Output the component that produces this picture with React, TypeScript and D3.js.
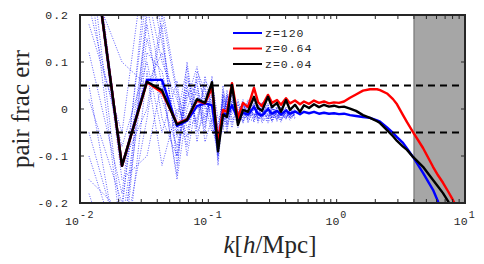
import React from 'react';
import * as d3 from 'd3';

// k bins [h/Mpc]
const kBins = [
  0.01175, 0.02124, 0.03327, 0.04355, 0.057, 0.06822, 0.08163, 0.09421, 0.1068, 0.119,
  0.1301, 0.1398, 0.1529, 0.1702, 0.1863, 0.2037, 0.2269, 0.2438, 0.2619, 0.2917,
  0.3133, 0.3428, 0.3683, 0.4029, 0.4329, 0.4736, 0.518, 0.5566, 0.6088, 0.6659,
  0.7283, 0.7968, 0.8716, 0.9533, 1.043, 1.141, 1.27, 1.415, 1.604, 1.819,
  2.063, 2.177, 2.467, 2.748, 2.953, 3.288, 3.533, 3.935, 4.708, 5.633,
  6.16, 6.74, 7.372, 8.064, 8.82,
];

const errZ120 = [
  0.405, -0.121, 0.062, 0.062, -0.036, -0.025, 0.006, 0.012, 0.008, -0.08,
  -0.01, -0.012, 0.008, -0.022, -0.008, -0.012, 0.004, -0.01, -0.014, 0.0,
  -0.01, -0.004, -0.012, -0.003, -0.01, -0.005, -0.011, -0.006, -0.009, -0.006,
  -0.01, -0.008, -0.01, -0.009, -0.011, -0.01, -0.013, -0.015, -0.017, -0.019,
  -0.024, -0.027, -0.039, -0.051, -0.06, -0.072, -0.084, -0.102, -0.136, -0.172,
  -0.197, -0.225, -0.26, -0.3, -0.34,
];

const errZ064 = [
  0.405, -0.121, 0.057, 0.035, -0.031, -0.022, 0.018, 0.012, 0.045, -0.07,
  -0.002, -0.006, 0.055, -0.019, 0.013, 0.004, 0.045, 0.015, 0.006, 0.03,
  0.013, 0.019, 0.009, 0.023, 0.012, 0.018, 0.01, 0.016, 0.011, 0.018,
  0.013, 0.016, 0.012, 0.014, 0.013, 0.016, 0.024, 0.031, 0.039, 0.042,
  0.042, 0.04, 0.033, 0.021, 0.01, -0.013, -0.028, -0.049, -0.083, -0.123,
  -0.141, -0.157, -0.175, -0.194, -0.215,
];

const errZ004 = [
  0.405, -0.121, 0.058, 0.04, -0.033, -0.023, 0.021, 0.013, 0.057, -0.09,
  -0.012, -0.017, 0.051, -0.034, -0.002, -0.006, 0.026, 0.002, -0.004, 0.026,
  0.004, 0.013, -0.006, 0.019, -0.002, 0.009, -0.006, 0.008, 0.002, 0.01,
  0.004, 0.009, 0.005, 0.007, 0.004, 0.005, 0.001, -0.004, -0.013, -0.019,
  -0.026, -0.03, -0.045, -0.058, -0.068, -0.08, -0.087, -0.102, -0.123, -0.151,
  -0.165, -0.179, -0.196, -0.215, -0.235,
];

// individual z=120 realisations (first 26 bins)
const realisations = [
  [0.35, -0.25, 0.15, 0.02, -0.08, 0.03, 0.05, -0.02, 0.03, -0.06, 0.02, -0.03, 0.01, -0.02, 0.005, -0.025, 0.012, -0.018, 0.0, -0.022, 0.004, -0.015, -0.002, -0.02, -0.006, -0.012],
  [0.12, -0.18, 0.25, 0.1, 0.02, -0.06, 0.08, 0.04, -0.03, -0.1, 0.03, 0.0, 0.03, -0.04, 0.01, -0.008, 0.02, -0.03, -0.005, 0.01, -0.025, -0.004, -0.016, 0.004, -0.02, -0.008],
  [-0.05, -0.3, -0.02, 0.18, -0.12, 0.05, -0.04, 0.07, 0.0, -0.04, -0.05, 0.02, -0.01, 0.0, -0.03, 0.01, -0.015, 0.005, -0.03, -0.01, 0.006, -0.026, -0.008, -0.014, 0.0, -0.018],
  [0.22, -0.08, 0.1, -0.05, 0.06, -0.1, 0.02, -0.05, 0.06, -0.02, -0.03, 0.04, -0.03, 0.01, -0.02, 0.015, -0.028, 0.0, 0.008, -0.03, -0.012, 0.002, -0.024, -0.006, -0.016, 0.002],
  [-0.15, -0.22, 0.3, 0.14, -0.02, 0.09, -0.07, 0.03, 0.05, -0.12, 0.0, -0.05, 0.02, -0.01, 0.02, -0.03, 0.0, -0.012, 0.015, -0.005, -0.02, 0.008, -0.01, -0.022, 0.002, -0.01],
  [0.4, -0.15, -0.1, 0.06, -0.15, 0.0, 0.06, -0.07, -0.02, -0.07, 0.05, -0.02, 0.04, -0.035, -0.01, 0.02, -0.02, 0.01, -0.025, 0.004, -0.015, -0.02, 0.006, -0.01, -0.024, -0.004],
  [0.05, -0.35, 0.2, 0.22, 0.04, -0.04, -0.02, 0.06, 0.04, -0.09, -0.02, 0.03, -0.02, -0.025, 0.015, -0.015, -0.01, -0.025, 0.006, -0.018, 0.0, -0.01, -0.028, 0.0, -0.014, -0.02],
  [0.28, 0.1, 0.05, 0.12, -0.05, 0.07, 0.0, 0.01, -0.05, -0.03, 0.01, -0.04, 0.0, -0.015, -0.025, 0.0, 0.01, -0.02, -0.012, 0.012, -0.028, -0.006, 0.0, -0.016, -0.008, -0.014],
  [-0.18, -0.4, 0.08, -0.12, 0.0, -0.02, 0.04, -0.03, 0.02, -0.11, 0.04, 0.01, -0.04, 0.02, -0.015, -0.02, 0.005, -0.008, -0.02, -0.026, 0.01, -0.012, -0.02, -0.004, -0.02, -0.006],
  [0.18, -0.05, 0.35, 0.16, -0.1, 0.02, 0.09, 0.0, 0.01, -0.05, -0.01, 0.01, 0.05, -0.03, 0.0, -0.01, -0.022, 0.015, -0.008, -0.014, -0.004, -0.024, 0.002, -0.012, -0.01, -0.016],
  [0.3, -0.28, 0.12, 0.08, -0.06, 0.04, -0.03, 0.05, -0.04, -0.08, 0.03, -0.01, 0.02, -0.02, -0.005, -0.015, 0.008, -0.022, -0.01, 0.006, -0.018, -0.002, -0.012, -0.02, -0.004, -0.01],
  [0.02, -0.2, 0.18, -0.02, -0.1, 0.06, 0.03, -0.04, 0.07, -0.06, -0.04, 0.03, -0.005, 0.015, -0.028, -0.004, 0.01, -0.01, -0.018, -0.004, 0.008, -0.02, -0.006, 0.002, -0.018, -0.012],
  [0.45, -0.12, 0.0, 0.2, 0.03, -0.08, 0.07, 0.02, -0.01, -0.1, 0.0, 0.02, 0.03, -0.01, 0.012, -0.02, -0.026, 0.004, -0.006, -0.02, 0.002, -0.014, -0.024, -0.008, 0.0, -0.014],
  [-0.1, -0.32, 0.22, 0.05, -0.14, 0.1, -0.05, -0.01, 0.03, -0.04, 0.02, -0.035, 0.015, -0.03, 0.006, 0.005, -0.012, -0.016, 0.01, -0.012, -0.026, 0.004, -0.008, -0.018, -0.012, -0.002],
];

const yTicks = [-0.2, -0.1, 0, 0.1, 0.2];
const xDecades = [-2, -1, 0, 1];
const legendItems = [
  { label: 'z=120', color: '#0000ff' },
  { label: 'z=0.64', color: '#ff0000' },
  { label: 'z=0.04', color: '#000000' },
];
const maskStart = 4; // grey band from k=4
const tolerance = 0.05;

const W = 484;
const H = 264;
const left = 80, right = 465, top = 15, bottom = 203;
const axisColor = '#262626';
const mono = '"Liberation Mono", "DejaVu Sans Mono", monospace';
const serif = '"Liberation Serif", "DejaVu Serif", serif';

export default function App() {
  const x = d3.scaleLog().domain([0.01, 10]).range([left, right]);
  const y = d3.scaleLinear().domain([-0.2, 0.2]).range([bottom, top]);

  const line = d3.line<[number, number]>()
    .x((d) => x(d[0]))
    .y((d) => y(d[1]));

  const path = (vals: number[]) => line(vals.map((v, i) => [kBins[i], v]) as [number, number][]) || '';

  const minorTicks: number[] = [];
  xDecades.slice(0, 3).forEach((e) => {
    for (let m = 2; m <= 9; m++) minorTicks.push(m * Math.pow(10, e));
  });

  return (
    <div style={{ position: 'fixed', left: 0, top: 0 }}>
      <svg width={W} height={H} style={{ display: 'block', background: '#fff' }}>
        <defs>
          <clipPath id="plot">
            <rect x={left} y={top} width={right - left} height={bottom - top} />
          </clipPath>
        </defs>

        <rect x={x(maskStart)} y={top} width={right - x(maskStart)} height={bottom - top}
          fill="#a6a6a6" stroke="#555" strokeWidth={0.8} />

        <g clipPath="url(#plot)" fill="none">
          {realisations.map((r, i) => (
            <path key={i} d={path(r)} stroke="#0000ff" strokeOpacity={0.7}
              strokeWidth={0.9} strokeDasharray="1 1.5" />
          ))}
          <path d={path(errZ120)} stroke="#0000ff" strokeWidth={2.4} strokeLinejoin="round" />
          <path d={path(errZ064)} stroke="#ff0000" strokeWidth={2.4} strokeLinejoin="round" />
          <path d={path(errZ004)} stroke="#000" strokeWidth={2.4} strokeLinejoin="round" />
        </g>

        {[tolerance, -tolerance].map((t) => (
          <line key={t} x1={left} x2={right} y1={y(t)} y2={y(t)} stroke="#000"
            strokeWidth={2} strokeDasharray="7 5" />
        ))}

        {/* ticks */}
        <g stroke={axisColor} strokeWidth={1}>
          {yTicks.map((t) => (
            <g key={t}>
              <line x1={left} x2={left + 4} y1={y(t)} y2={y(t)} />
              <line x1={right} x2={right - 4} y1={y(t)} y2={y(t)} />
            </g>
          ))}
          {minorTicks.concat(xDecades.map((e) => Math.pow(10, e))).map((k) => (
            <g key={k}>
              <line x1={x(k)} x2={x(k)} y1={bottom} y2={bottom - 4} />
              <line x1={x(k)} x2={x(k)} y1={top} y2={top + 4} />
            </g>
          ))}
        </g>
        <rect x={left} y={top} width={right - left} height={bottom - top}
          fill="none" stroke={axisColor} strokeWidth={2} />

        {/* tick labels */}
        <g fontFamily={mono} fontSize={11.5} fill={axisColor}>
          {yTicks.map((t) => (
            <text key={t} x={69} y={y(t)} textAnchor="end" dominantBaseline="central"
              letterSpacing={1}>
              {t === 0 ? '0' : d3.format('.1f')(t).replace('−', '-')}
            </text>
          ))}
          {xDecades.map((e) => (
            <text key={e} x={x(Math.pow(10, e))} y={225} textAnchor="middle">
              10<tspan dy={-7} fontSize={10} dx={1} letterSpacing={1.5}>{String(e)}</tspan>
            </text>
          ))}
        </g>

        {/* axis titles */}
        <text transform={`translate(29,109) rotate(-90)`} textAnchor="middle"
          fontFamily={serif} fontSize={25} fill={axisColor}>
          pair frac err
        </text>
        <text x={270} y={253} textAnchor="middle" fontFamily={serif} fontSize={25} fill={axisColor}>
          <tspan fontStyle="italic">k</tspan>[<tspan fontStyle="italic">h</tspan>/Mpc]
        </text>

        {/* legend */}
        <g fontFamily={mono} fontSize={11.5} fill={axisColor}>
          {legendItems.map((d, i) => (
            <g key={d.label} transform={`translate(0,${33 + i * 15.5})`}>
              <line x1={233} x2={262} y1={0} y2={0} stroke={d.color} strokeWidth={2} />
              <text x={265} y={0} dominantBaseline="central" letterSpacing={1}>{d.label}</text>
            </g>
          ))}
        </g>
      </svg>
    </div>
  );
}
